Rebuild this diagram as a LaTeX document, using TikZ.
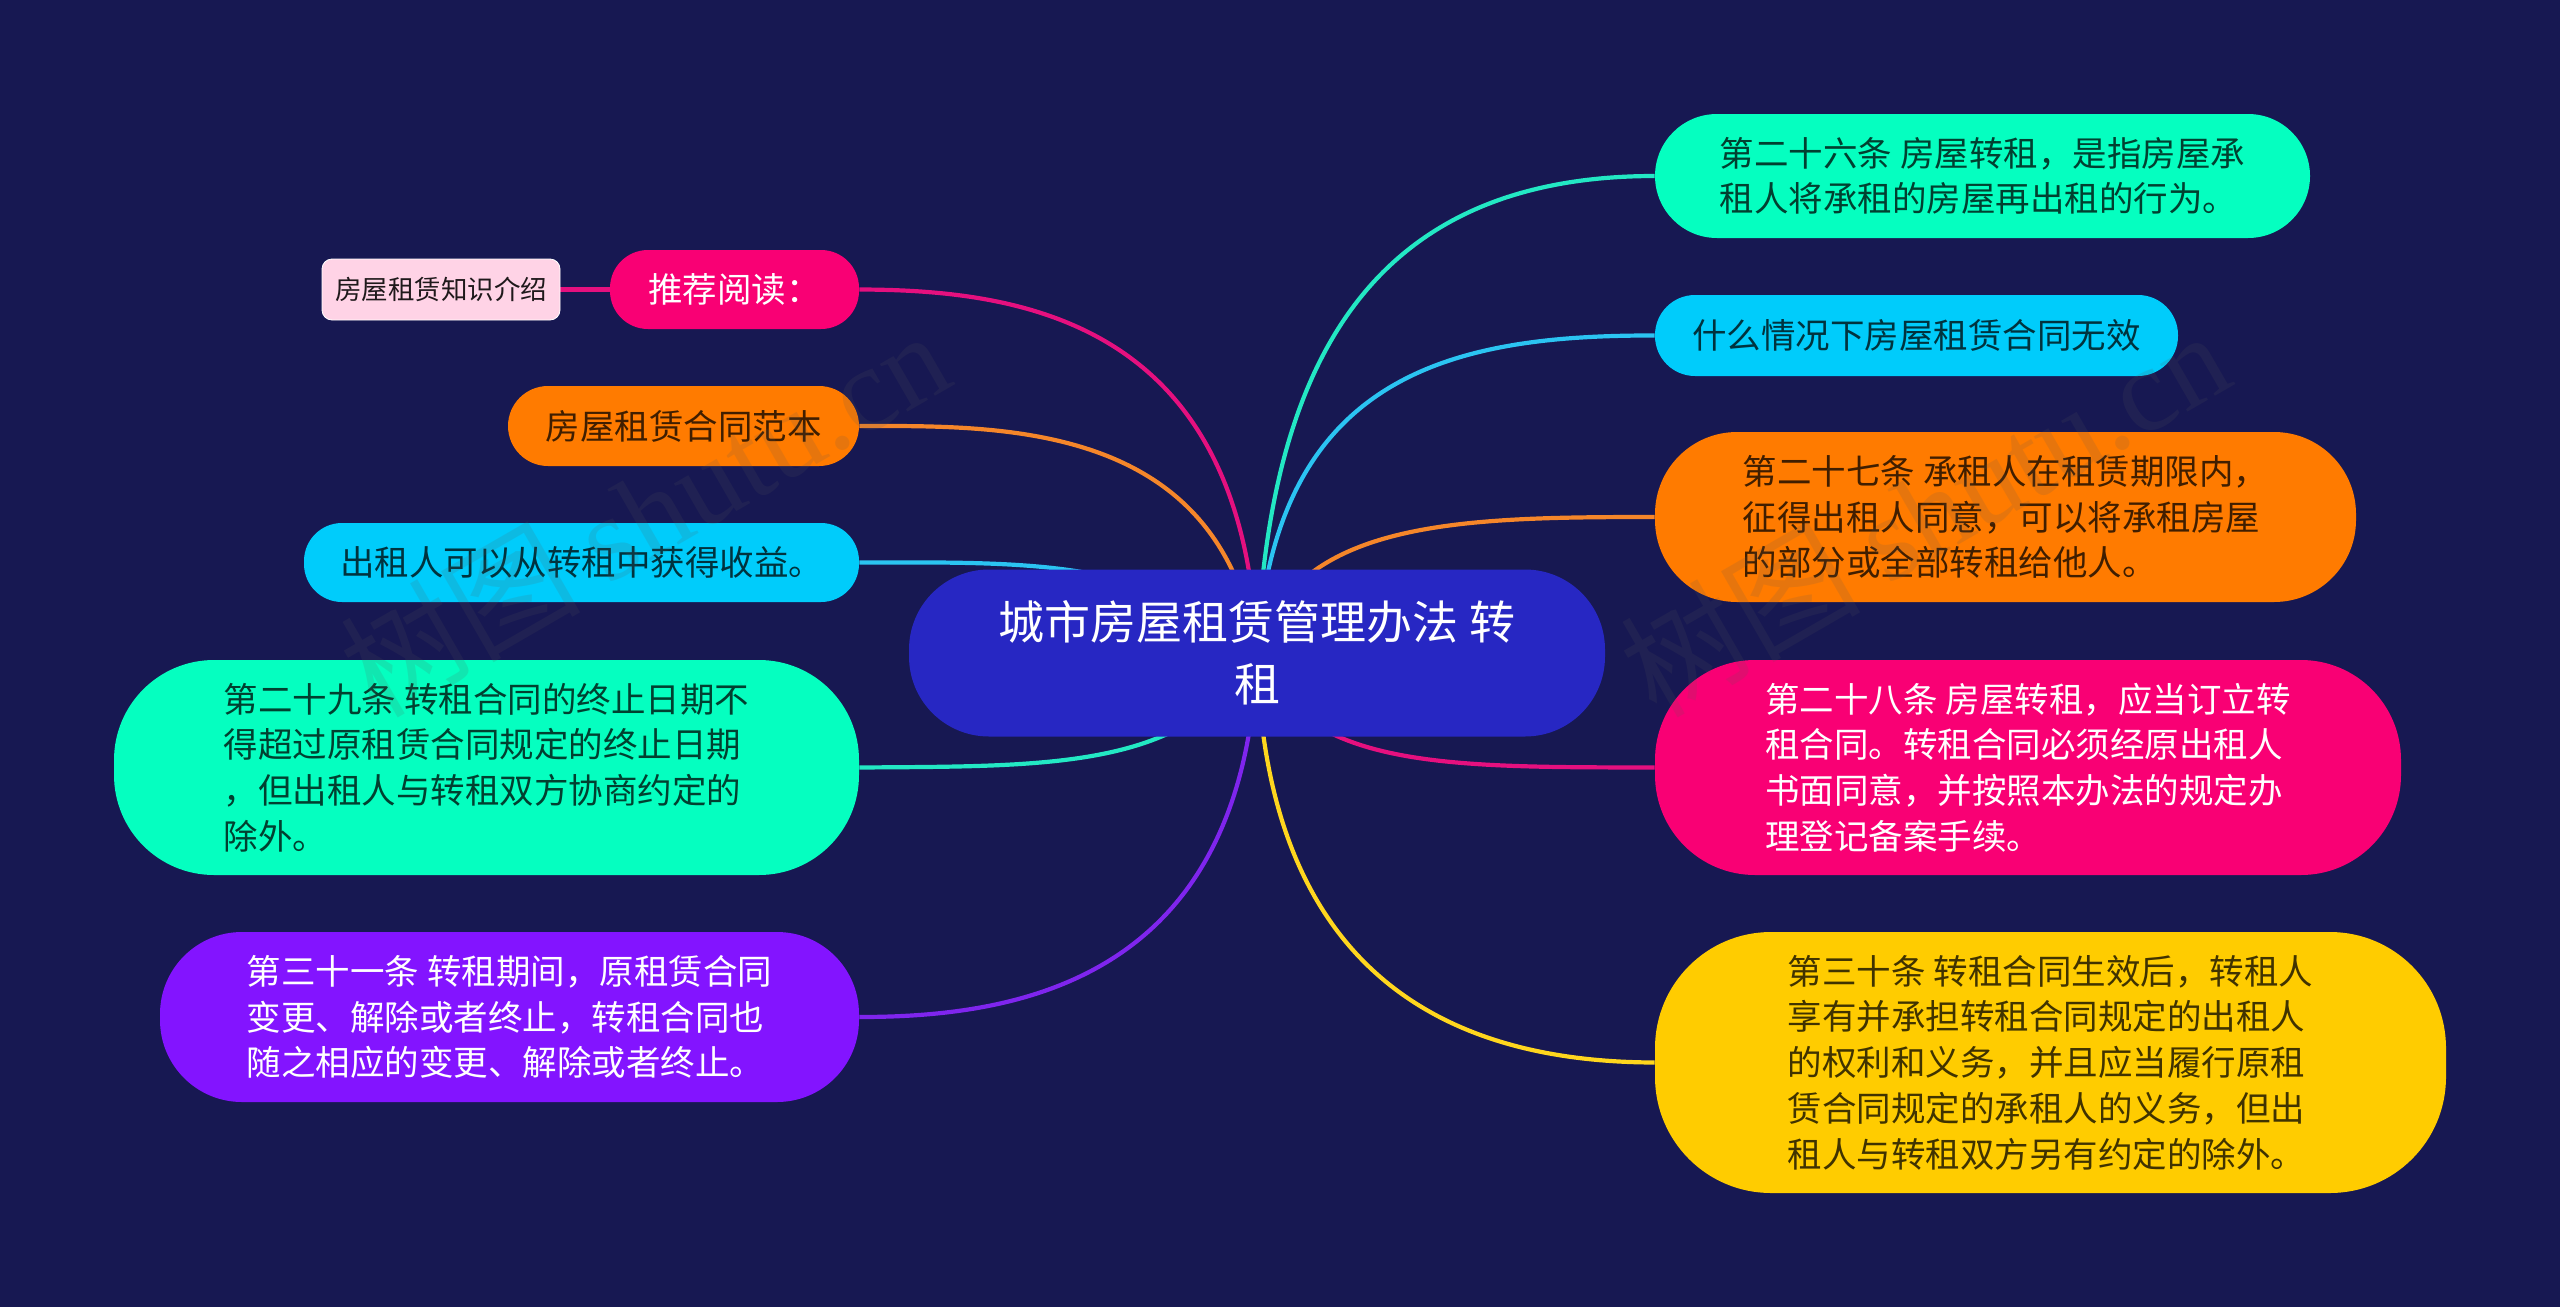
\documentclass[tikz,border=0pt]{standalone}
\usepackage{fontspec}
\setmainfont{Noto Sans CJK SC}
\newfontfamily\markserif{Liberation Serif}
\usetikzlibrary{backgrounds}
\definecolor{nightbg}{HTML}{171852}
\definecolor{rootblue}{HTML}{2727C3}
\definecolor{mintc}{HTML}{05FFC0}
\definecolor{skyc}{HTML}{00CCFB}
\definecolor{orangec}{HTML}{FF7B00}
\definecolor{rosec}{HTML}{F90074}
\definecolor{goldc}{HTML}{FFCC00}
\definecolor{violetc}{HTML}{8314FF}
\definecolor{palepink}{HTML}{FFD3E6}
\definecolor{mintline}{HTML}{23E8C4}
\definecolor{skyline}{HTML}{2BC4F2}
\definecolor{orangeline}{HTML}{F5862A}
\definecolor{roseline}{HTML}{E5107F}
\definecolor{goldline}{HTML}{FFD61E}
\definecolor{violetline}{HTML}{7F25EE}

\begin{document}
\begin{tikzpicture}
  [x=0.5pt,y=-0.5pt,
   main node/.style={rectangle,inner sep=0pt,align=left,text=black,text opacity=.75,
     font=\fontsize{17.25}{22.85}\selectfont},
   light node/.style={main node,text=white,text opacity=1},
   link/.style={line width=2.1pt},
   mark node/.style={rotate=30,text=gray!70!black,text opacity=.15,inner sep=0pt,
     font=\fontsize{60}{64}\selectfont}]
\useasboundingbox (0,0) rectangle (2560,1307);

\node[light node,fill=rootblue,minimum width=348pt,minimum height=83.5pt,rounded corners=40pt,align=center,
  font=\fontsize{23}{31}\selectfont] (root) at (1257,653) {城市房屋租赁管理办法 转\\租};

\node[main node,fill=mintc,minimum width=327.5pt,minimum height=62pt,rounded corners=31pt] (art26) at (1982.5,176) {第二十六条 房屋转租，是指房屋承\\租人将承租的房屋再出租的行为。};
\node[main node,fill=skyc,minimum width=261.5pt,minimum height=40.5pt,rounded corners=20pt] (invalid) at (1916.5,335.5) {什么情况下房屋租赁合同无效};
\node[main node,fill=orangec,minimum width=350.5pt,minimum height=85pt,rounded corners=41pt] (art27) at (2005.5,517) {第二十七条 承租人在租赁期限内，\\征得出租人同意，可以将承租房屋\\的部分或全部转租给他人。};
\node[light node,fill=rosec,minimum width=373pt,minimum height=107.5pt,rounded corners=50pt] (art28) at (2028,767.5) {第二十八条 房屋转租，应当订立转\\租合同。转租合同必须经原出租人\\书面同意，并按照本办法的规定办\\理登记备案手续。};
\node[main node,fill=goldc,minimum width=395.5pt,minimum height=130.5pt,rounded corners=58pt] (art30) at (2050.5,1062.5) {第三十条 转租合同生效后，转租人\\享有并承担转租合同规定的出租人\\的权利和义务，并且应当履行原租\\赁合同规定的承租人的义务，但出\\租人与转租双方另有约定的除外。};

\node[light node,fill=rosec,minimum width=124.5pt,minimum height=39.5pt,rounded corners=19pt] (read) at (734.5,289.5) {推荐阅读：};
\node[main node,fill=palepink,draw=white,line width=.4pt,minimum width=119pt,minimum height=30.5pt,rounded corners=5pt,text opacity=.88,
  font=\fontsize{13.25}{16}\selectfont] (intro) at (441,289.5) {房屋租赁知识介绍};
\node[main node,fill=orangec,minimum width=175.5pt,minimum height=40pt,rounded corners=20pt] (sample) at (683.5,426) {房屋租赁合同范本};
\node[main node,fill=skyc,minimum width=277.5pt,minimum height=39.5pt,rounded corners=19pt] (gain) at (581.5,562.5) {出租人可以从转租中获得收益。};
\node[main node,fill=mintc,minimum width=372.5pt,minimum height=107.5pt,rounded corners=50pt] (art29) at (486.5,767.5) {第二十九条 转租合同的终止日期不\\得超过原租赁合同规定的终止日期\\，但出租人与转租双方协商约定的\\除外。};
\node[light node,fill=violetc,minimum width=349.5pt,minimum height=85pt,rounded corners=41pt] (art31) at (509.5,1017) {第三十一条 转租期间，原租赁合同\\变更、解除或者终止，转租合同也\\随之相应的变更、解除或者终止。};

\begin{pgfonlayer}{background}
\fill[nightbg] (0,0) rectangle (2560,1307);
\draw[link,mintline] (root.center) .. controls (1270,350) and (1380,176) .. (art26.west);
\draw[link,skyline] (root.center) .. controls (1275,375) and (1450,335) .. (invalid.west);
\draw[link,orangeline] (root.center) .. controls (1295,520) and (1460,517) .. (art27.west);
\draw[link,roseline] (root.center) .. controls (1300,770) and (1450,767) .. (art28.west);
\draw[link,goldline] (root.center) .. controls (1265,1000) and (1480,1062) .. (art30.west);
\draw[link,roseline] (root.center) .. controls (1245,320) and (1020,290) .. (read.east);
\draw[link,orangeline] (root.center) .. controls (1220,420) and (1000,426) .. (sample.east);
\draw[link,skyline] (root.center) .. controls (1150,560) and (1040,562) .. (gain.east);
\draw[link,mintline] (root.center) .. controls (1190,770) and (1050,766) .. (art29.east);
\draw[link,violetline] (root.center) .. controls (1245,980) and (1020,1017) .. (art31.east);
\draw[link,roseline] (intro) -- (read);
\end{pgfonlayer}

\node[mark node] (mark1) at (644,512) {树图 {\markserif shutu.cn}};
\node[mark node] (mark2) at (1924,512) {树图 {\markserif shutu.cn}};
\end{tikzpicture}
\end{document}
